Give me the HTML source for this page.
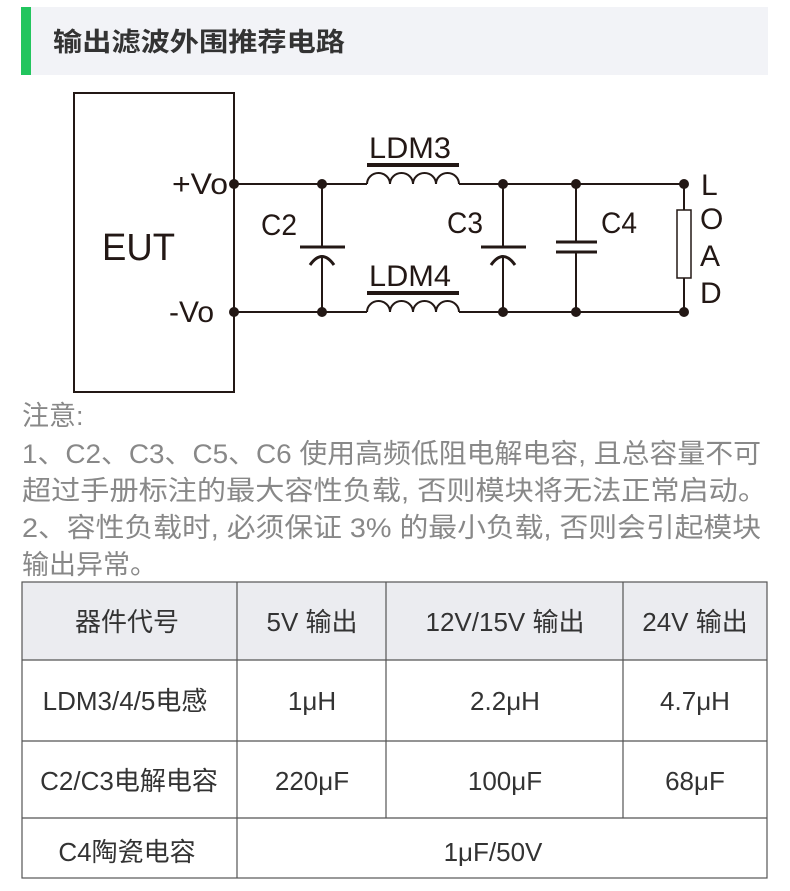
<!DOCTYPE html>
<html><head><meta charset="utf-8"><style>
html,body{margin:0;padding:0;background:#fff;}
svg{display:block;}
.t{font-family:"Liberation Sans","Noto Sans CJK SC",sans-serif;}
.n{font-family:"Liberation Sans",sans-serif;}
</style></head><body>
<svg width="790" height="891" viewBox="0 0 790 891" xmlns="http://www.w3.org/2000/svg">
<rect x="21" y="7" width="747" height="68" fill="#f2f3f7"/>
<rect x="21" y="7" width="10" height="68" fill="#22c55e"/>
<text class="t" x="53" y="51" font-size="26" font-weight="bold" fill="#333" textLength="292" lengthAdjust="spacingAndGlyphs">输出滤波外围推荐电路</text>

<g stroke="#231815" stroke-width="2" fill="none">
<rect x="74" y="93" width="160" height="299"/>
<line x1="234" y1="184" x2="367" y2="184"/>
<line x1="459" y1="184" x2="684" y2="184"/>
<line x1="234" y1="312" x2="367" y2="312"/>
<line x1="459" y1="312" x2="684" y2="312"/>
<path d="M367 184 a11.5 11 0 0 1 23 0 a11.5 11 0 0 1 23 0 a11.5 11 0 0 1 23 0 a11.5 11 0 0 1 23 0"/>
<path d="M367 312 a11.5 11 0 0 1 23 0 a11.5 11 0 0 1 23 0 a11.5 11 0 0 1 23 0 a11.5 11 0 0 1 23 0"/>
<line x1="322" y1="184" x2="322" y2="247"/>
<line x1="300" y1="247" x2="345" y2="247" stroke-width="3"/>
<path d="M310 265 Q322 248 334 265" stroke-width="3"/>
<line x1="322" y1="256" x2="322" y2="312"/>
<line x1="503" y1="184" x2="503" y2="247"/>
<line x1="481" y1="247" x2="526" y2="247" stroke-width="3"/>
<path d="M491 265 Q503 248 515 265" stroke-width="3"/>
<line x1="503" y1="256" x2="503" y2="312"/>
<line x1="576" y1="184" x2="576" y2="242"/>
<line x1="556" y1="242" x2="597" y2="242" stroke-width="3"/>
<line x1="556" y1="252" x2="597" y2="252" stroke-width="3"/>
<line x1="576" y1="252" x2="576" y2="312"/>
<line x1="684" y1="184" x2="684" y2="210"/>
<rect x="677" y="210" width="14" height="68" stroke-width="1.5"/>
<line x1="684" y1="278" x2="684" y2="312"/>
</g>
<rect x="367" y="163" width="92" height="4" fill="#231815"/>
<rect x="367" y="291" width="92" height="4" fill="#231815"/>
<g fill="#231815">
<circle cx="234" cy="184" r="5"/><circle cx="322" cy="184" r="5"/><circle cx="503" cy="184" r="5"/><circle cx="576" cy="184" r="5"/><circle cx="684" cy="184" r="5"/>
<circle cx="234" cy="312" r="5"/><circle cx="322" cy="312" r="5"/><circle cx="503" cy="312" r="5"/><circle cx="576" cy="312" r="5"/><circle cx="684" cy="312" r="5"/>
</g>
<g class="n" fill="#231815" font-size="30" lengthAdjust="spacingAndGlyphs">
<text x="172" y="194" textLength="56" lengthAdjust="spacingAndGlyphs">+Vo</text>
<text x="169" y="322" textLength="45" lengthAdjust="spacingAndGlyphs">-Vo</text>
<text x="102" y="260" font-size="38" textLength="73" lengthAdjust="spacingAndGlyphs">EUT</text>
<text x="369" y="158" textLength="82" lengthAdjust="spacingAndGlyphs">LDM3</text>
<text x="369" y="286" textLength="82" lengthAdjust="spacingAndGlyphs">LDM4</text>
<text x="261" y="235" textLength="36" lengthAdjust="spacingAndGlyphs">C2</text>
<text x="447" y="233" textLength="36" lengthAdjust="spacingAndGlyphs">C3</text>
<text x="601" y="233" textLength="36" lengthAdjust="spacingAndGlyphs">C4</text>
<text x="701" y="195">L</text>
<text x="700" y="229">O</text>
<text x="700" y="266">A</text>
<text x="700" y="303">D</text>
</g>

<g class="t" fill="#888" font-size="27">
<text x="22" y="425">注意:</text>
<text x="22" y="463" textLength="739" lengthAdjust="spacingAndGlyphs">1、C2、C3、C5、C6 使用高频低阻电解电容, 且总容量不可</text>
<text x="22" y="500" textLength="745" lengthAdjust="spacingAndGlyphs">超过手册标注的最大容性负载, 否则模块将无法正常启动。</text>
<text x="22" y="537" textLength="739" lengthAdjust="spacingAndGlyphs">2、容性负载时, 必须保证 3% 的最小负载, 否则会引起模块</text>
<text x="22" y="574">输出异常。</text>
</g>

<rect x="22" y="582" width="745" height="78" fill="#ebecf0"/>
<g stroke="#555" stroke-width="1.2" fill="none">
<rect x="22" y="582" width="745" height="296"/>
<line x1="22" y1="660" x2="767" y2="660"/>
<line x1="22" y1="741" x2="767" y2="741"/>
<line x1="22" y1="818" x2="767" y2="818"/>
<line x1="237" y1="582" x2="237" y2="878"/>
<line x1="386" y1="582" x2="386" y2="818"/>
<line x1="623" y1="582" x2="623" y2="818"/>
</g>
<g class="t" fill="#333" font-size="26" text-anchor="middle">
<text x="127" y="631">器件代号</text>
<text x="312" y="631">5V 输出</text>
<text x="505" y="631">12V/15V 输出</text>
<text x="695" y="631">24V 输出</text>
<text x="125" y="710">LDM3/4/5电感</text>
<text x="312" y="710">1μH</text>
<text x="505" y="710">2.2μH</text>
<text x="695" y="710">4.7μH</text>
<text x="129" y="790">C2/C3电解电容</text>
<text x="312" y="790">220μF</text>
<text x="505" y="790">100μF</text>
<text x="695" y="790">68μF</text>
<text x="127" y="861">C4陶瓷电容</text>
<text x="493" y="861">1μF/50V</text>
</g>
</svg>
</body></html>
